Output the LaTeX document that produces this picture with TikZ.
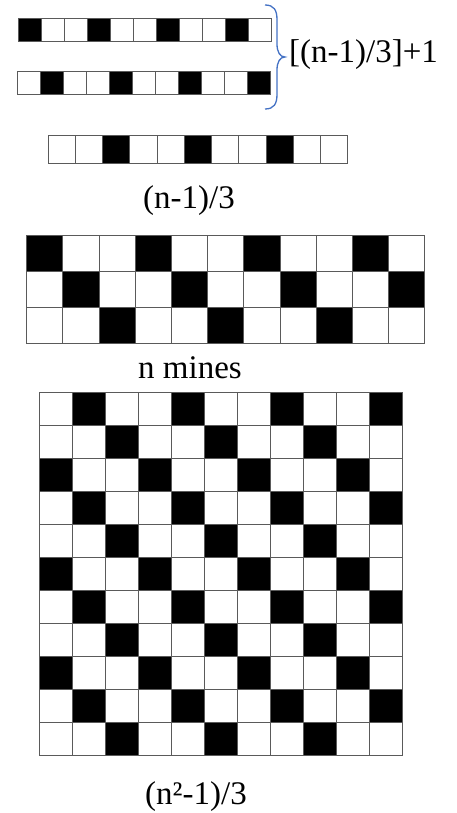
\documentclass[tikz,border=0pt]{standalone}
\usepackage{fontspec}
\setmainfont{Liberation Serif}
\definecolor{bracecol}{HTML}{4472C4}
\definecolor{gridcol}{HTML}{5A5A5A}
\begin{document}
\begin{tikzpicture}[x=1pt,y=-1pt,
  cell/.style={draw=gridcol,line width=1pt},
  lbl/.style={font=\fontsize{33}{40}\selectfont, inner sep=0pt}]
\useasboundingbox (0,0) rectangle (457,813);
% strip 1
\foreach \c in {0,...,10}{
  \pgfmathtruncatemacro\m{mod(\c,3)}
  \ifnum\m=0 \def\fc{black}\else\def\fc{white}\fi
  \filldraw[cell,fill=\fc] (18+\c*23,18.5) rectangle ++(23,23);
}
% strip 2
\foreach \c in {0,...,10}{
  \pgfmathtruncatemacro\m{mod(\c,3)}
  \ifnum\m=1 \def\fc{black}\else\def\fc{white}\fi
  \filldraw[cell,fill=\fc] (17.5+\c*23,72) rectangle ++(23,23);
}
% brace
\draw[bracecol, line width=1.3pt] (265,5) .. controls (274,5) and (277,10) .. (277,20) -- (277,44)
  .. controls (277,52) and (280,57) .. (285,57)
  .. controls (280,57) and (277,62) .. (277,70) -- (277,94)
  .. controls (277,104) and (274,109) .. (265,109);
\node[lbl, anchor=base west] (bl) at (289,63) {[(n-1)/3]+1};
% strip 3
\foreach \c in {0,...,10}{
  \pgfmathtruncatemacro\m{mod(\c,3)}
  \ifnum\m=2 \def\fc{black}\else\def\fc{white}\fi
  \filldraw[cell,fill=\fc] (48+\c*27.27,136) rectangle ++(27.27,27.3);
}
\node[lbl, anchor=base] (l1) at (189,208) {(n-1)/3};
% three-row grid
\foreach \r in {0,1,2}{
  \foreach \c in {0,...,10}{
    \pgfmathtruncatemacro\m{mod(\c-\r+12,3)}
    \ifnum\m=0 \def\fc{black}\else\def\fc{white}\fi
    \filldraw[cell,fill=\fc] (26.7+\c*36.2,235+\r*36.33) rectangle ++(36.2,36.33);
  }
}
\node[lbl, anchor=base] (l2) at (190,378) {n mines};
% big grid
\foreach \r in {0,...,10}{
  \foreach \c in {0,...,10}{
    \pgfmathtruncatemacro\m{mod(\c-\r+14,3)}
    \ifnum\m=0 \def\fc{black}\else\def\fc{white}\fi
    \filldraw[cell,fill=\fc] (39+\c*33,392+\r*33) rectangle ++(33,33);
  }
}
\node[lbl, anchor=base] (l3) at (196,804) {(n²-1)/3};
\end{tikzpicture}
\end{document}
